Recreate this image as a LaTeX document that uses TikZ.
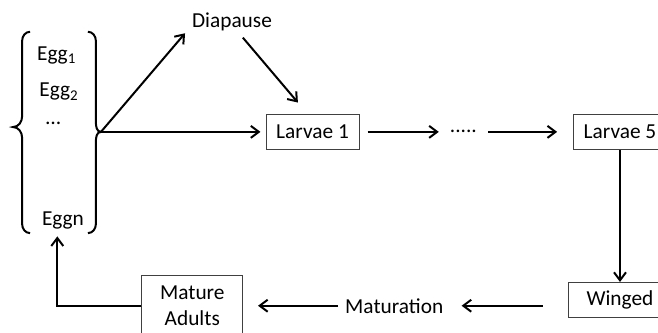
\documentclass[tikz,border=0pt]{standalone}
\usepackage{fontspec}
\setmainfont{Carlito}
\usetikzlibrary{arrows.meta}
\begin{document}
\begin{tikzpicture}[font=\fontsize{10.7}{12.8}\selectfont,
    arr/.style={line width=1pt,-{Straight Barb[length=4pt,width=6pt]}},
    stage/.style={draw=black!75,line width=0.5pt,minimum height=0.62cm,inner xsep=0.18cm}]
  \useasboundingbox (0,0) rectangle (11.6,5.87);
  % egg brackets
  \draw[line width=1pt] (0.53,5.31) to[out=180,in=90] (0.39,5.15) -- (0.39,3.82)
    to[out=-90,in=0] (0.23,3.63) to[out=0,in=90] (0.39,3.44) -- (0.39,1.92)
    to[out=-90,in=180] (0.53,1.76);
  \draw[line width=1pt] (1.55,5.31) to[out=0,in=90] (1.69,5.15) -- (1.69,3.72)
    to[out=-90,in=180] (1.78,3.545) to[out=180,in=90] (1.69,3.37) -- (1.69,1.92)
    to[out=-90,in=0] (1.55,1.76);
  \coordinate (j) at (1.78,3.545);
  \node (egga) at (1.0,4.90) {Egg\textsubscript{1}};
  \node (eggb) at (1.04,4.25) {Egg\textsubscript{2}};
  \node (eggdots) at (0.94,3.70) {…};
  \node (eggn) at (1.11,1.98) {Eggn};
  % stages
  \node (diap) at (4.09,5.49) {Diapause};
  \node[stage] (l1) at (5.51,3.545) {Larvae 1};
  \node[inner sep=0.19cm] (ldots) at (8.17,3.545) {.....};
  \node[stage] (l5) at (10.93,3.545) {Larvae 5};
  \node[stage,minimum width=1.83cm] (wing) at (10.93,0.58) {Winged};
  \node (mat) at (6.95,0.48) {Maturation};
  \node[stage,minimum width=1.78cm,minimum height=1.06cm,align=center] (adults)
    at (3.39,0.48) {Mature\\Adults};
  % connectors
  \draw[arr] (j) -- (diap.194);
  \draw[arr,shorten >=0.26cm] (diap.304) -- ([xshift=-0.09cm]l1.north);
  \draw[arr,shorten >=0.09cm] (j) -- (l1.west);
  \draw[arr,shorten <=0.14cm] (l1.east) -- (ldots.west);
  \draw[arr,shorten >=0.28cm] (ldots.east) -- (l5.west);
  \draw[arr] (l5.south) -- (wing.north);
  \draw[arr,shorten <=0.44cm,shorten >=0.2cm] (wing.west |- mat.east) -- (mat.east);
  \draw[arr,shorten >=0.26cm] (mat.west) -- (adults.east);
  \draw[arr] (adults.west) -| ([xshift=-0.1cm]eggn.south);
\end{tikzpicture}
\end{document}
